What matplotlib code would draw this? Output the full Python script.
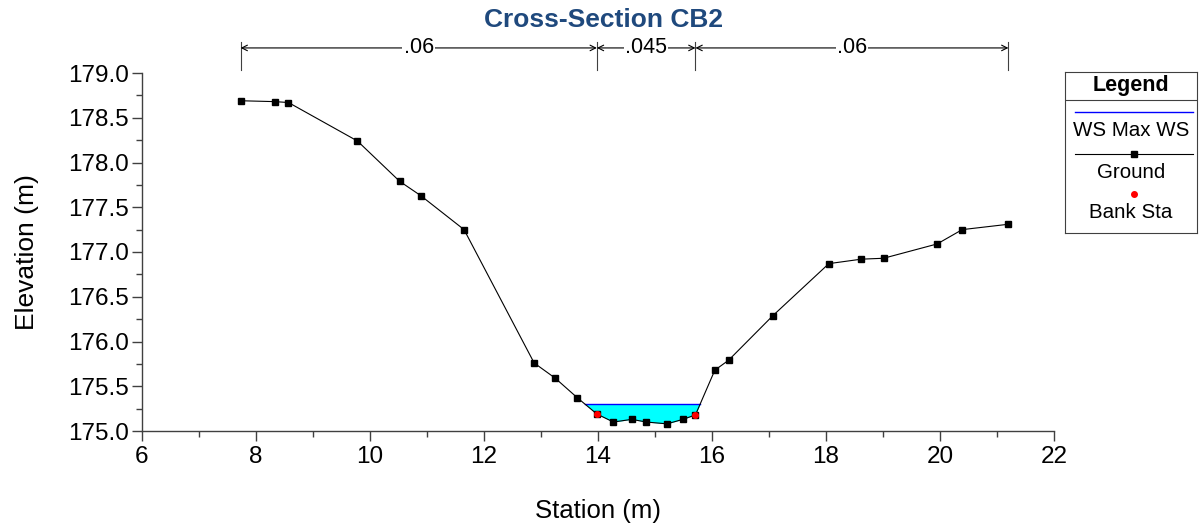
import matplotlib.pyplot as plt
import matplotlib as mpl
import numpy as np

mpl.rcParams['font.family'] = ['Liberation Sans', 'DejaVu Sans']
plt.rcParams['xtick.labelsize'] = 17.5
plt.rcParams['ytick.labelsize'] = 17.5

# ground survey points (station, elevation)
station = [7.73, 8.34, 8.57, 9.78, 10.52, 10.89, 11.65, 12.88, 13.25, 13.64,
           13.98, 14.27, 14.59, 14.85, 15.21, 15.49, 15.71, 16.05, 16.29,
           17.07, 18.05, 18.62, 19.01, 19.95, 20.39, 21.20]
elev = [178.69, 178.68, 178.67, 178.24, 177.79, 177.63, 177.25, 175.76, 175.59,
        175.37, 175.19, 175.10, 175.13, 175.10, 175.08, 175.13, 175.18, 175.68,
        175.79, 176.29, 176.87, 176.92, 176.93, 177.09, 177.25, 177.31]
bank_sta = [13.98, 15.71]
ws_max = 175.30

# Manning's n reach breaks and values
n_breaks = [7.73, 13.98, 15.71, 21.20]
n_labels = ['.06', '.045', '.06']

station = np.array(station)
elev = np.array(elev)

fig = plt.figure(figsize=(11.99, 5.29), dpi=100)
ax = fig.add_axes([142/1199, 1-431/529, 912/1199, 358/529])

# water fill in the channel
xf = np.linspace(13.0, 16.5, 2000)
gf = np.interp(xf, station, elev)
wet = gf < ws_max
ax.fill_between(xf, gf, ws_max, where=wet, color='#00FFFF', lw=0, zorder=1)
ax.plot(xf[wet][[0, -1]], [ws_max, ws_max], color='#0000FF', lw=1, zorder=2)

ax.plot(station, elev, color='black', lw=0.8, marker='s', ms=4.5, zorder=3)
bank_elev = np.interp(bank_sta, station, elev)
ax.plot(bank_sta, bank_elev, ls='none', marker='o', ms=4, color='red', zorder=4)

ax.set_xlim(6, 22)
ax.set_ylim(175.0, 179.0)
ax.xaxis.set_major_locator(mpl.ticker.MultipleLocator(2))
ax.xaxis.set_minor_locator(mpl.ticker.MultipleLocator(1))
ax.yaxis.set_major_locator(mpl.ticker.MultipleLocator(0.5))
ax.yaxis.set_minor_locator(mpl.ticker.MultipleLocator(0.25))
ax.yaxis.set_major_formatter(mpl.ticker.FormatStrFormatter('%.1f'))
for s in ['top', 'right']:
    ax.spines[s].set_visible(False)
for s in ['left', 'bottom']:
    ax.spines[s].set_color('#404040')
    ax.spines[s].set_linewidth(1)
ax.tick_params(which='major', length=7, width=1, color='#404040', direction='out')
ax.tick_params(which='minor', length=4, width=1, color='#404040', direction='out')
ax.tick_params(axis='x', pad=4)
ax.tick_params(axis='y', pad=2.5)

ax.set_xlabel('Station (m)', fontsize=18.5, labelpad=22)
ax.set_ylabel('Elevation (m)', fontsize=19, labelpad=21)

fig.text(603/1199, 1-20/529, 'Cross-Section CB2', ha='center', va='center',
         fontsize=19, fontweight='bold', color='#1F497D')

# roughness annotation above the plot
trans = mpl.transforms.blended_transform_factory(ax.transData, ax.transAxes)
for xb in n_breaks:
    ax.plot([xb, xb], [1.009, 1.087], transform=trans, color='#404040',
            lw=0.8, clip_on=False)
for i, lab in enumerate(n_labels):
    x0, x1 = n_breaks[i], n_breaks[i+1]
    xm = 0.5 * (x0 + x1)
    for xe in (x0, x1):
        ax.annotate('', xy=(xe, 1.07), xytext=(xm, 1.07), xycoords=trans,
                    textcoords=trans,
                    arrowprops=dict(arrowstyle='->', color='black', lw=0.8,
                                    shrinkA=0, shrinkB=0),
                    annotation_clip=False)
    ax.text(xm, 1.07, lab, transform=trans, ha='center', va='center',
            fontsize=15.5, clip_on=False,
            bbox=dict(facecolor='white', edgecolor='none', pad=1))

# legend box
lax = fig.add_axes([1065/1199, 1-233/529, 132/1199, 161/529])
lax.set_xlim(0, 132)
lax.set_ylim(161, 0)
lax.set_xticks([])
lax.set_yticks([])
for s in lax.spines.values():
    s.set_linewidth(0.8)
    s.set_color('#404040')
lax.text(66, 13, 'Legend', ha='center', va='center', fontsize=15.5, fontweight='bold')
lax.plot([0, 132], [28, 28], color='#404040', lw=0.8)
lax.plot([10, 128], [40, 40], color='#0000FF', lw=1)
lax.text(66, 59, 'WS Max WS', ha='center', va='center', fontsize=14.8)
lax.plot([10, 128], [82, 82], color='black', lw=0.8)
lax.plot([69], [82], marker='s', ms=4.5, color='black')
lax.text(66, 100, 'Ground', ha='center', va='center', fontsize=14.8)
lax.plot([69], [122], marker='o', ms=4, color='red')
lax.text(66, 141, 'Bank Sta', ha='center', va='center', fontsize=14.8)

plt.savefig('out.png', dpi=100)
